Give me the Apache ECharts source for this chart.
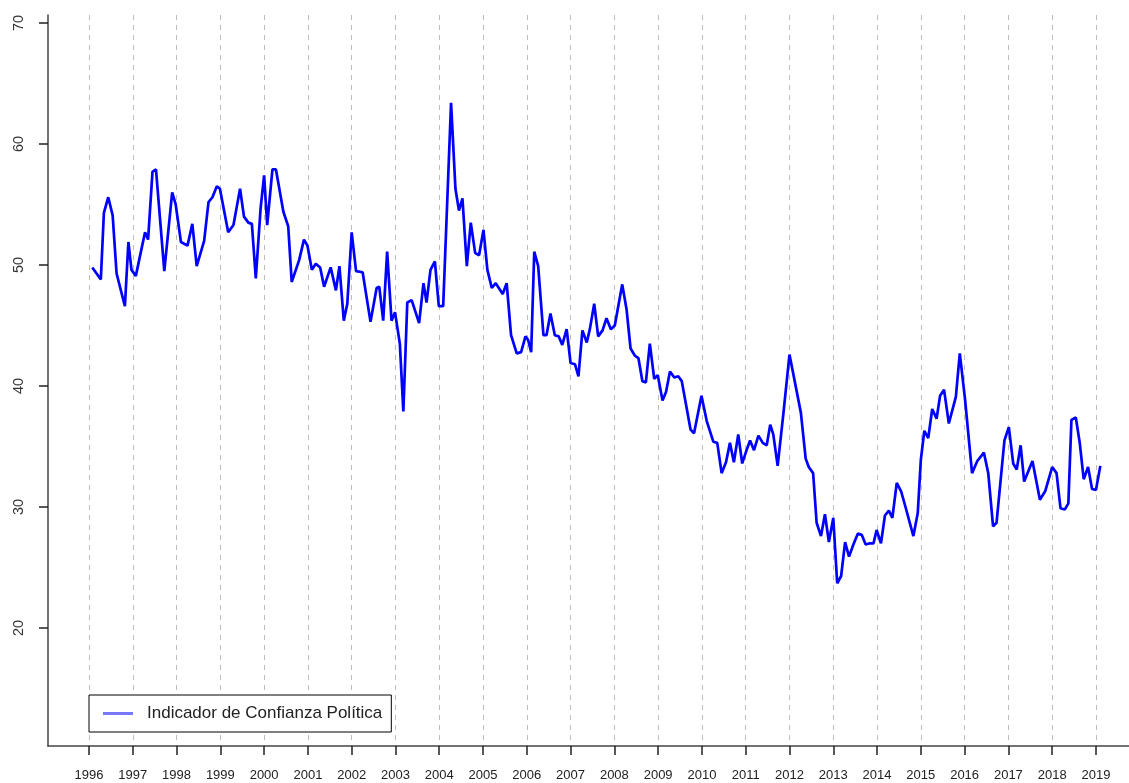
<!DOCTYPE html>
<html>
<head>
<meta charset="utf-8">
<title>Indicador de Confianza Política</title>
<script src="https://cdn.jsdelivr.net/npm/echarts@6/dist/echarts.min.js"></script>
<style>
  html, body { margin: 0; padding: 0; background: #fff; }
  #chart { width: 1129px; height: 783px; }
</style>
</head>
<body>
<div id="chart"></div>
<script>
// fechas (año decimal) y valores
const fechas = [
  1996.075, 1996.27, 1996.34, 1996.44, 1996.54, 1996.63, 1996.82, 1996.90, 1996.97,
  1997.07, 1997.18, 1997.28, 1997.35, 1997.45, 1997.53, 1997.72, 1997.90, 1997.98,
  1998.10, 1998.25, 1998.36, 1998.46, 1998.63, 1998.73, 1998.82, 1998.92, 1998.99,
  1999.18, 1999.30, 1999.45, 1999.54, 1999.64, 1999.72, 1999.81, 1999.92,
  2000.00, 2000.07, 2000.19, 2000.27, 2000.44, 2000.55, 2000.63, 2000.80, 2000.91, 2000.99,
  2001.09, 2001.18, 2001.28, 2001.37, 2001.52, 2001.64, 2001.72, 2001.82, 2001.90,
  2002.00, 2002.10, 2002.25, 2002.43, 2002.57, 2002.63, 2002.72, 2002.81, 2002.91, 2002.99,
  2003.10, 2003.18, 2003.27, 2003.37, 2003.54, 2003.64, 2003.71, 2003.80, 2003.90, 2003.99,
  2004.09, 2004.27, 2004.37, 2004.45, 2004.53, 2004.63, 2004.72, 2004.82, 2004.91,
  2005.01, 2005.10, 2005.20, 2005.29, 2005.45, 2005.54, 2005.64, 2005.77, 2005.87, 2005.97,
  2006.03, 2006.10, 2006.17, 2006.26, 2006.38, 2006.45, 2006.54, 2006.64, 2006.73, 2006.81, 2006.91,
  2007.00, 2007.10, 2007.18, 2007.27, 2007.37, 2007.44, 2007.54, 2007.63, 2007.73, 2007.82, 2007.92,
  2008.01, 2008.18, 2008.28, 2008.37, 2008.47, 2008.55, 2008.64, 2008.72, 2008.81, 2008.91, 2008.99,
  2009.10, 2009.18, 2009.27, 2009.37, 2009.46, 2009.54, 2009.74, 2009.82, 2009.99,
  2010.11, 2010.26, 2010.35, 2010.45, 2010.55, 2010.64, 2010.73, 2010.83, 2010.92,
  2011.02, 2011.10, 2011.19, 2011.29, 2011.39, 2011.48, 2011.56, 2011.63, 2011.73, 2011.86,
  2012.00, 2012.26, 2012.37, 2012.44, 2012.54, 2012.62, 2012.72, 2012.81, 2012.90,
  2013.00, 2013.09, 2013.18, 2013.27, 2013.36, 2013.46, 2013.56, 2013.65, 2013.74, 2013.84, 2013.92, 2013.99,
  2014.09, 2014.18, 2014.27, 2014.35, 2014.45, 2014.55, 2014.65, 2014.83, 2014.93,
  2015.00, 2015.08, 2015.17, 2015.26, 2015.36, 2015.44, 2015.53, 2015.64, 2015.80, 2015.89,
  2016.01, 2016.17, 2016.29, 2016.44, 2016.54, 2016.65, 2016.73, 2016.91,
  2017.01, 2017.11, 2017.19, 2017.28, 2017.36, 2017.55, 2017.72, 2017.84,
  2018.00, 2018.10, 2018.19, 2018.29, 2018.37, 2018.44, 2018.54, 2018.63, 2018.72, 2018.82, 2018.91,
  2019.00, 2019.10
]
const valores = [
  49.8, 48.8, 54.3, 55.6, 54.1, 49.3, 46.6, 51.9, 49.6,
  49.1, 51.0, 52.7, 52.1, 57.7, 57.9, 49.5, 56.0, 55.0,
  51.9, 51.6, 53.4, 49.9, 52.0, 55.2, 55.6, 56.5, 56.3,
  52.7, 53.3, 56.3, 54.0, 53.5, 53.4, 48.9, 54.7,
  57.4, 53.3, 57.9, 57.9, 54.4, 53.2, 48.6, 50.4, 52.1, 51.6,
  49.6, 50.1, 49.8, 48.2, 49.8, 47.9, 49.9, 45.4, 46.8,
  52.7, 49.5, 49.4, 45.3, 48.1, 48.2, 45.4, 51.1, 45.4, 46.1,
  43.5, 37.9, 46.9, 47.1, 45.2, 48.5, 46.9, 49.6, 50.3, 46.6,
  46.6, 63.4, 56.3, 54.5, 55.5, 49.9, 53.5, 51.0, 50.8,
  52.9, 49.6, 48.1, 48.5, 47.6, 48.5, 44.2, 42.7, 42.8, 44.1,
  43.8, 42.8, 51.1, 49.9, 44.2, 44.2, 46.0, 44.2, 44.1, 43.4, 44.7,
  41.9, 41.8, 40.8, 44.6, 43.6, 44.7, 46.8, 44.1, 44.6, 45.6, 44.7,
  45.0, 48.4, 46.3, 43.1, 42.5, 42.3, 40.4, 40.3, 43.5, 40.6, 40.9,
  38.8, 39.5, 41.2, 40.7, 40.8, 40.4, 36.4, 36.1, 39.2,
  37.1, 35.4, 35.3, 32.8, 33.7, 35.3, 33.7, 36.0, 33.6,
  34.7, 35.5, 34.7, 35.9, 35.3, 35.1, 36.8, 36.0, 33.4, 37.7,
  42.6, 37.8, 34.0, 33.3, 32.8, 28.7, 27.6, 29.4, 27.1,
  29.1, 23.7, 24.3, 27.1, 25.9, 26.9, 27.8, 27.7, 26.9, 27.0, 27.0, 28.1,
  27.0, 29.3, 29.7, 29.1, 32.0, 31.3, 30.0, 27.6, 29.5,
  33.9, 36.3, 35.7, 38.1, 37.3, 39.2, 39.7, 36.9, 39.1, 42.7,
  38.9, 32.8, 33.8, 34.5, 32.8, 28.4, 28.7, 35.5,
  36.6, 33.6, 33.1, 35.1, 32.1, 33.8, 30.6, 31.3,
  33.3, 32.8, 29.9, 29.8, 30.3, 37.2, 37.4, 35.3, 32.3, 33.3, 31.5,
  31.4, 33.4
]
// marcas de los ejes
const anios = [1996, 1997, 1998, 1999, 2000, 2001, 2002, 2003, 2004, 2005, 2006, 2007,
  2008, 2009, 2010, 2011, 2012, 2013, 2014, 2015, 2016, 2017, 2018, 2019]
const marcasY = [20, 30, 40, 50, 60, 70]
const nombreSerie = 'Indicador de Confianza Política'

const fuente = '"Liberation Sans", Arial, sans-serif'

const chart = echarts.init(document.getElementById('chart'))

const option = {
  animation: false,
  backgroundColor: '#fff',
  grid: {
    left: 48,
    right: 0,
    top: 15,
    bottom: 37
  },
  legend: {
    left: 89,
    top: 695,
    orient: 'horizontal',
    data: [nombreSerie],
    icon: 'rect',
    itemWidth: 30,
    itemHeight: 3,
    padding: [10, 9, 10, 14],
    borderColor: '#000',
    borderWidth: 1,
    backgroundColor: '#fff',
    itemStyle: { color: '#7878ff' },
    textStyle: {
      fontFamily: fuente,
      fontSize: 17,
      color: '#222',
      padding: [0, 0, 0, 9]
    }
  },
  xAxis: {
    type: 'value',
    min: 1995.0635,
    max: 2019.755,
    axisLine: {
      lineStyle: { color: '#444', width: 1.5 }
    },
    axisTick: {
      customValues: anios,
      length: 9,
      lineStyle: { color: '#222', width: 1.5 }
    },
    axisLabel: {
      customValues: anios,
      margin: 23,
      fontFamily: fuente,
      fontSize: 13,
      color: '#222',
      formatter: function (v) { return String(v) }
    },
    // líneas verticales discontinuas en cada año
    splitLine: {
      show: true,
      lineStyle: { color: '#bdbdbd', type: [5, 5], width: 1 }
    }
  },
  yAxis: {
    type: 'value',
    min: 10.25,
    max: 70.66,
    axisLine: {
      show: true,
      lineStyle: { color: '#444', width: 1.5 }
    },
    axisTick: {
      show: true,
      customValues: marcasY,
      length: 9,
      lineStyle: { color: '#222', width: 1.5 }
    },
    axisLabel: {
      customValues: marcasY,
      rotate: 90,
      margin: 22,
      fontFamily: fuente,
      fontSize: 14.5,
      color: '#333'
    },
    splitLine: { show: false }
  },
  series: [{
    name: nombreSerie,
    type: 'line',
    symbol: 'none',
    lineStyle: { color: '#0000ff', width: 2.7 },
    itemStyle: { color: '#0000ff' },
    data: fechas.map(function (f, i) { return [f, valores[i]] })
  }]
}

chart.setOption(option)

window.addEventListener('resize', function () {
  chart.resize()
})
</script>
</body>
</html>
